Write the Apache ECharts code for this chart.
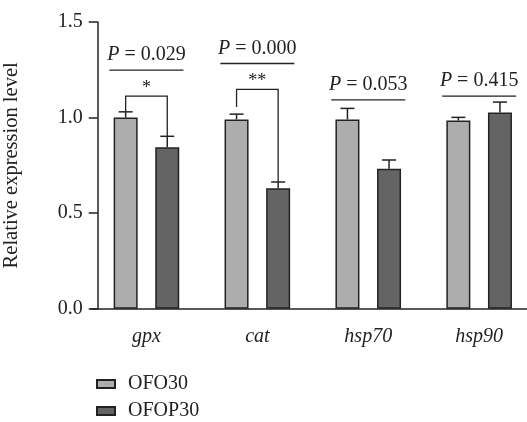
<!DOCTYPE html>
<html><head><meta charset="utf-8">
<script src="https://cdn.jsdelivr.net/npm/echarts@6/dist/echarts.min.js"></script>
<style>html,body{margin:0;padding:0;background:#fff}#c{width:527px;height:422px}</style>
</head><body><div id="c"></div>
<script>
const categories = ['gpx', 'cat', 'hsp70', 'hsp90'];
const seriesNames = ['OFO30', 'OFOP30'];
const ofo30 = [1.00, 0.99, 0.99, 0.985];
const ofop30 = [0.845, 0.63, 0.732, 1.027];
const ofo30ErrTop = [1.03, 1.018, 1.048, 1.001];
const ofop30ErrTop = [0.902, 0.663, 0.778, 1.081];
const pValues = ['0.029', '0.000', '0.053', '0.415'];
const pLineLevels = [1.248, 1.283, 1.093, 1.112];
const sigMarks = ['*', '**', '', ''];
const bracketLevels = [1.112, 1.147, null, null];
const bracketLeftEnds = [1.029, 1.055, null, null];
const bracketRightEnds = [0.903, 0.663, null, null];
const yMin = 0, yMax = 1.5, yStep = 0.5;

const FONT = '"Liberation Serif", "Times New Roman", serif';
const INK = '#222';
const BAR_W = 24, BAR_GAP_PX = 17.6;
const OFF = (BAR_W + BAR_GAP_PX) / 2;

function errRender(offset) {
  return function (params, api) {
    const x = api.coord([api.value(0), 0])[0] + offset;
    const y1 = api.coord([api.value(0), api.value(1)])[1];
    const y2 = api.coord([api.value(0), api.value(2)])[1];
    const st = { stroke: INK, lineWidth: 1.5 };
    return { type: 'group', children: [
      { type: 'line', shape: { x1: x, y1: y1, x2: x, y2: y2 }, style: st },
      { type: 'line', shape: { x1: x - 7, y1: y2, x2: x + 7, y2: y2 }, style: st }
    ]};
  };
}

function annRender(params, api) {
  const i = params.dataIndex;
  const cx = api.coord([i, 0])[0];
  const yl = api.coord([i, pLineLevels[i]])[1];
  const st = { stroke: INK, lineWidth: 1.3 };
  const ch = [
    { type: 'line', shape: { x1: cx - 37, y1: yl, x2: cx + 37, y2: yl }, style: st },
    { type: 'text', style: { text: '{i|P} = ' + pValues[i], x: cx, y: yl - 15, align: 'center', verticalAlign: 'middle',
        fontFamily: FONT, fontSize: 20, fill: INK,
        rich: { i: { fontStyle: 'italic', fontFamily: FONT, fontSize: 20, fill: INK } } } }
  ];
  if (bracketLevels[i] != null) {
    const yb = api.coord([i, bracketLevels[i]])[1];
    const yL = api.coord([i, bracketLeftEnds[i]])[1];
    const yR = api.coord([i, bracketRightEnds[i]])[1];
    ch.push({ type: 'polyline', shape: { points: [[cx - OFF, yL], [cx - OFF, yb], [cx + OFF, yb], [cx + OFF, yR]] }, style: { stroke: INK, lineWidth: 1.3, fill: null } });
    ch.push({ type: 'text', style: { text: sigMarks[i], x: cx, y: yb + 1, align: 'center', verticalAlign: 'bottom', fontFamily: FONT, fontSize: 18, fill: INK } });
  }
  return { type: 'group', children: ch };
}

const chart = echarts.init(document.getElementById('c'), null, { renderer: 'canvas' });
chart.setOption({
  animation: false,
  backgroundColor: '#fff',
  grid: { left: 91, top: 22, width: 443.6, height: 286.7, containLabel: false, outerBoundsMode: 'none' },
  legend: {
    data: seriesNames, orient: 'vertical', left: 96, top: 374, icon: 'rect', padding: 0,
    itemWidth: 18, itemHeight: 8, itemGap: 7,
    textStyle: { fontFamily: FONT, fontSize: 20, lineHeight: 20, color: INK, padding: [0, 0, 0, 8] }
  },
  xAxis: {
    type: 'category', data: categories,
    axisLine: { lineStyle: { color: INK, width: 1.5 } },
    axisTick: { alignWithLabel: true, length: 7, lineStyle: { color: INK, width: 1.5 } },
    axisLabel: { fontFamily: FONT, fontSize: 20, fontStyle: 'italic', color: INK, margin: 18 }
  },
  yAxis: {
    type: 'value', min: yMin, max: yMax, interval: yStep, offset: -6.7,
    name: 'Relative expression level', nameLocation: 'middle', nameGap: 76, 
    nameTextStyle: { fontFamily: FONT, fontSize: 20.5, color: INK },
    axisLine: { show: true, lineStyle: { color: INK, width: 1.5 } },
    axisTick: { show: true, length: 9, lineStyle: { color: INK, width: 1.5 } },
    axisLabel: { fontFamily: FONT, fontSize: 20, color: INK, margin: 15, formatter: v => v.toFixed(1) },
    splitLine: { show: false }
  },
  series: [
    { name: seriesNames[0], type: 'bar', data: ofo30, barWidth: BAR_W, barGap: (BAR_GAP_PX / BAR_W * 100) + '%',
      itemStyle: { color: '#adadad', borderColor: INK, borderWidth: 1.5 } },
    { name: seriesNames[1], type: 'bar', data: ofop30, barWidth: BAR_W,
      itemStyle: { color: '#646464', borderColor: INK, borderWidth: 1.5 } },
    { type: 'custom', z: 5, renderItem: errRender(-OFF), data: categories.map((c, i) => [i, ofo30[i], ofo30ErrTop[i]]) },
    { type: 'custom', z: 5, renderItem: errRender(OFF), data: categories.map((c, i) => [i, ofop30[i], ofop30ErrTop[i]]) },
    { type: 'custom', z: 6, clip: false, renderItem: annRender, data: categories.map((c, i) => [i, pLineLevels[i]]) }
  ]
});
</script></body></html>
